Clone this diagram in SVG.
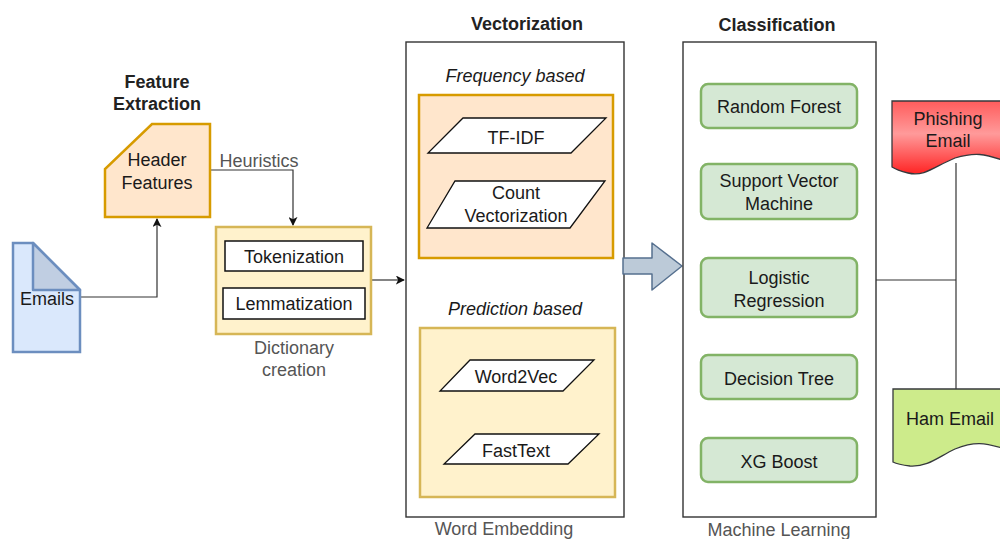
<svg xmlns="http://www.w3.org/2000/svg" width="1000" height="539" viewBox="0 0 1000 539">
  <style>
    text { font-family: "Liberation Sans", Arial, sans-serif; fill: #1a1a1a; text-anchor: middle; dominant-baseline: central; }
    .t18 { font-size: 18px; }
    .title { font-size: 18px; font-weight: bold; fill: #222; }
    .caption { font-size: 18px; fill: #555; }
    .ital { font-size: 18px; font-style: italic; }
    .edge { fill: none; stroke: #333; stroke-width: 1.2; }
    .container { fill: #fff; stroke: #333; stroke-width: 1.4; }
    .orange { fill: #ffe6cc; stroke: #d79b00; stroke-width: 2.5; }
    .yellow { fill: #fff2cc; stroke: #d6b656; stroke-width: 2.5; }
    .para { fill: #fff; stroke: #111; stroke-width: 1.3; }
    .green { fill: #d5e8d4; stroke: #82b366; stroke-width: 2.5; }
    .inner { fill: #fff; stroke: #111; stroke-width: 1.5; }
  </style>
  <defs>
    <marker id="arrow" viewBox="0 0 10 10" refX="9" refY="5" markerWidth="9" markerHeight="9" markerUnits="userSpaceOnUse" orient="auto">
      <path d="M0,0 L10,5 L0,10 L2.5,5 Z" fill="#111"/>
    </marker>
    <linearGradient id="redGrad" x1="0" y1="0" x2="0" y2="1">
      <stop offset="0" stop-color="#ff5c5c"/>
      <stop offset="0.45" stop-color="#ff9a9a"/>
      <stop offset="1" stop-color="#ff2424"/>
    </linearGradient>
  </defs>

  <!-- connectors -->
  <g id="connectors">
    <path class="edge" d="M80,297 H157 V219" marker-end="url(#arrow)"/>
    <path class="edge" d="M210,170 H293 V225" marker-end="url(#arrow)"/>
    <path class="edge" d="M372,280 H404" marker-end="url(#arrow)"/>
    <path class="edge" d="M876,280 H956"/>
    <path class="edge" d="M956,163 V390"/>
    <text class="caption" x="259" y="161">Heuristics</text>
  </g>

  <!-- source emails -->
  <g id="emails">
    <path d="M13,243 H33 L80,290 V352 H13 Z" fill="#dae8fc" stroke="#6c8ebf" stroke-width="2.5"/>
    <path d="M33,243 V290 H80 Z" fill="#c0cee2" stroke="#6c8ebf" stroke-width="2.5" stroke-linejoin="round"/>
    <text class="t18" x="47" y="299">Emails</text>
  </g>

  <!-- header feature extraction -->
  <g id="header-features">
    <text class="title" x="157" y="82">Feature</text>
    <text class="title" x="157" y="104">Extraction</text>
    <path class="orange" d="M152,124 H210 V217 H105 V169 Z"/>
    <text class="t18" x="157" y="160">Header</text>
    <text class="t18" x="157" y="183">Features</text>
  </g>

  <!-- dictionary creation -->
  <g id="dictionary">
    <rect class="yellow" x="216" y="227" width="155" height="107"/>
    <rect class="inner" x="225" y="241" width="138" height="30" stroke="#33001a"/>
    <text class="t18" x="294" y="257">Tokenization</text>
    <rect class="inner" x="223" y="288" width="142" height="31"/>
    <text class="t18" x="294" y="304">Lemmatization</text>
    <text class="caption" x="294" y="348">Dictionary</text>
    <text class="caption" x="294" y="370">creation</text>
  </g>

  <!-- vectorization -->
  <g id="vectorization">
    <text class="title" x="527" y="24">Vectorization</text>
    <rect class="container" x="406" y="42" width="218" height="475"/>
    <text class="ital" x="515" y="76">Frequency based</text>
    <rect class="orange" x="419" y="95" width="194" height="163"/>
    <path class="para" d="M463,118 H606 L571,153 H428 Z"/>
    <text class="t18" x="516" y="138">TF-IDF</text>
    <path class="para" d="M455,181 H605 L570,228 H427 Z"/>
    <text class="t18" x="516" y="193">Count</text>
    <text class="t18" x="516" y="216">Vectorization</text>
    <text class="ital" x="515" y="309">Prediction based</text>
    <rect class="yellow" x="420" y="328" width="195" height="169"/>
    <path class="para" d="M470,360 H594 L563,391 H440 Z"/>
    <text class="t18" x="516" y="377">Word2Vec</text>
    <path class="para" d="M475,434 H599 L568,464 H444 Z"/>
    <text class="t18" x="516" y="451">FastText</text>
    <text class="caption" x="504" y="529">Word Embedding</text>
  </g>

  <!-- flow into classification -->
  <g id="block-arrow">
    <path d="M623,258 H652 V243 L682,266 L652,290 V274 H623 Z" fill="#bccad8" stroke="#56708f" stroke-width="1.5" stroke-linejoin="round"/>
  </g>

  <!-- classification -->
  <g id="classification">
    <text class="title" x="777" y="25">Classification</text>
    <rect class="container" x="683" y="42" width="193" height="475"/>
    <rect class="green" x="701" y="84" width="156" height="44" rx="7"/>
    <text class="t18" x="779" y="107">Random Forest</text>
    <rect class="green" x="701" y="164" width="156" height="55" rx="7"/>
    <text class="t18" x="779" y="181">Support Vector</text>
    <text class="t18" x="779" y="204">Machine</text>
    <rect class="green" x="701" y="258" width="156" height="59" rx="7"/>
    <text class="t18" x="779" y="278">Logistic</text>
    <text class="t18" x="779" y="301">Regression</text>
    <rect class="green" x="701" y="355" width="156" height="44" rx="7"/>
    <text class="t18" x="779" y="379">Decision Tree</text>
    <rect class="green" x="701" y="438" width="156" height="44" rx="7"/>
    <text class="t18" x="779" y="462">XG Boost</text>
    <text class="caption" x="779" y="530">Machine Learning</text>
  </g>

  <!-- outcomes -->
  <g id="phishing-email">
    <path d="M892,101 H1002 V160 C985,154 975,152 955,158 C935,166 925,177 908,173 C900,171 895,169 892,167 Z" fill="url(#redGrad)" stroke="#36393d" stroke-width="1.3"/>
    <text class="t18" x="948" y="119">Phishing</text>
    <text class="t18" x="948" y="141">Email</text>
  </g>
  <g id="ham-email">
    <path d="M893,389 H1002 V448 C985,443 975,441 955,449 C938,457 928,467 910,466 C902,465 897,464 893,462 Z" fill="#cdeb8b" stroke="#36393d" stroke-width="1.3"/>
    <text class="t18" x="950" y="419">Ham Email</text>
  </g>
</svg>
